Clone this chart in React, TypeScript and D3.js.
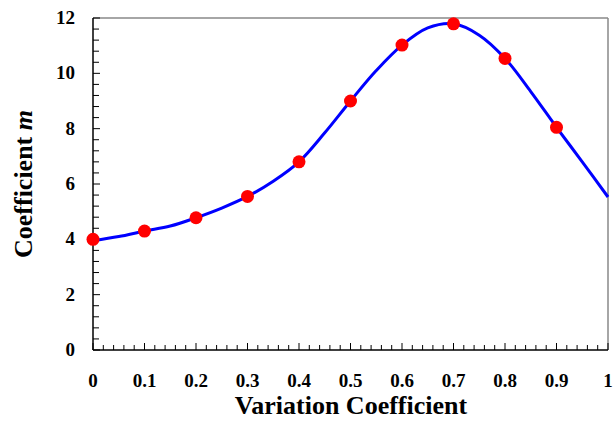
import * as d3 from 'd3';
import { useEffect, useRef } from 'react';

// measured points (red markers)
const pointX = [0, 0.1, 0.2, 0.3, 0.4, 0.5, 0.6, 0.7, 0.8, 0.9];
const pointY = [4.0, 4.3, 4.78, 5.55, 6.8, 9.0, 11.02, 11.79, 10.54, 8.05];

// fitted curve (blue line)
const lineX = [0, 0.05, 0.1, 0.15, 0.2, 0.25, 0.3, 0.35, 0.4, 0.45, 0.5, 0.55, 0.6, 0.65, 0.7, 0.75, 0.8, 0.85, 0.9, 0.95, 1.0];
const lineY = [3.95, 4.1, 4.3, 4.48, 4.78, 5.13, 5.55, 6.1, 6.8, 7.85, 9.0, 10.1, 11.02, 11.64, 11.79, 11.38, 10.54, 9.34, 8.05, 6.8, 5.53];

const xTicks = [0, 0.1, 0.2, 0.3, 0.4, 0.5, 0.6, 0.7, 0.8, 0.9, 1];
const yTicks = [0, 2, 4, 6, 8, 10, 12];

const App = () => {
    const ref = useRef<SVGSVGElement>(null);

    useEffect(() => {
        const svg = d3.select(ref.current);
        svg.selectAll('*').remove();

        const left = 93, right = 608, top = 18, bottom = 350;
        const font = '"Liberation Serif", "Times New Roman", serif';

        const x = d3.scaleLinear().domain([0, 1]).range([left, right]);
        const y = d3.scaleLinear().domain([0, 12]).range([bottom, top]);

        // frame: gray top and right
        svg.append('line')
            .attr('x1', left).attr('x2', right).attr('y1', top).attr('y2', top)
            .attr('stroke', '#888').attr('stroke-width', 1.5);
        svg.append('line')
            .attr('x1', right).attr('x2', right).attr('y1', top).attr('y2', bottom)
            .attr('stroke', '#888').attr('stroke-width', 1.5);

        // minor + major ticks, pointing inward
        const xMinor = d3.range(0, 51).map((i) => i / 50);
        svg.selectAll('.xtick')
            .data(xMinor)
            .enter()
            .append('line')
            .attr('x1', (d) => x(d)).attr('x2', (d) => x(d))
            .attr('y1', bottom)
            .attr('y2', (d, i) => bottom - (i % 5 === 0 ? 7 : 5))
            .attr('stroke', '#000').attr('stroke-width', 1);

        const yMinor = d3.range(0, 31).map((i) => i * 0.4);
        svg.selectAll('.ytick')
            .data(yMinor)
            .enter()
            .append('line')
            .attr('y1', (d) => y(d)).attr('y2', (d) => y(d))
            .attr('x1', left)
            .attr('x2', (d, i) => left + (i % 5 === 0 ? 7 : 6))
            .attr('stroke', '#000').attr('stroke-width', 1);

        // axes lines
        svg.append('line')
            .attr('x1', left).attr('x2', left).attr('y1', top).attr('y2', bottom)
            .attr('stroke', '#000').attr('stroke-width', 1.5);
        svg.append('line')
            .attr('x1', left).attr('x2', right).attr('y1', bottom).attr('y2', bottom)
            .attr('stroke', '#000').attr('stroke-width', 1.5);

        // tick labels
        svg.selectAll('.xlabel')
            .data(xTicks)
            .enter()
            .append('text')
            .attr('x', (d) => x(d))
            .attr('y', 387)
            .attr('text-anchor', 'middle')
            .style('font-family', font)
            .style('font-weight', 'bold')
            .style('font-size', '19px')
            .text((d) => String(d));

        svg.selectAll('.ylabel')
            .data(yTicks)
            .enter()
            .append('text')
            .attr('x', 75)
            .attr('y', (d) => y(d) + 6)
            .attr('text-anchor', 'end')
            .style('font-family', font)
            .style('font-weight', 'bold')
            .style('font-size', '19px')
            .text((d) => String(d));

        // curve
        const data = lineX.map((v, i) => [v, lineY[i]] as [number, number]);
        const line = d3.line<[number, number]>()
            .x((d) => x(d[0]))
            .y((d) => y(d[1]))
            .curve(d3.curveCatmullRom);
        svg.append('path')
            .attr('d', line(data))
            .attr('fill', 'none')
            .attr('stroke', '#0000ff')
            .attr('stroke-width', 3);

        // points
        svg.selectAll('.pt')
            .data(pointX.map((v, i) => [v, pointY[i]]))
            .enter()
            .append('circle')
            .attr('cx', (d) => x(d[0]))
            .attr('cy', (d) => y(d[1]))
            .attr('r', 6.5)
            .attr('fill', '#ff0000');

        // axis titles
        svg.append('text')
            .attr('x', 351)
            .attr('y', 414)
            .attr('text-anchor', 'middle')
            .style('font-family', font)
            .style('font-weight', 'bold')
            .style('font-size', '26px')
            .text('Variation Coefficient');

        const yt = svg.append('text')
            .attr('transform', 'translate(32, 184) rotate(-90)')
            .attr('text-anchor', 'middle')
            .style('font-family', font)
            .style('font-weight', 'bold')
            .style('font-size', '26px');
        yt.append('tspan').text('Coefficient ');
        yt.append('tspan').style('font-style', 'italic').text('m');
    }, []);

    return (
        <svg
            ref={ref}
            width={613}
            height={421}
            style={{ position: 'absolute', left: 0, top: 0, background: '#fff' }}
        />
    );
};

export default App;
